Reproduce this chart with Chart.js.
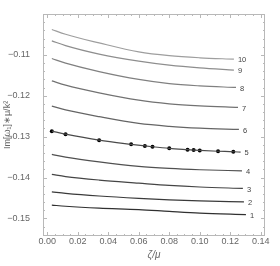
<!DOCTYPE html>
<html>
<head>
<meta charset="utf-8">
<script src="https://cdn.jsdelivr.net/npm/chart.js@4.4.1/dist/chart.umd.min.js"></script>
<style>
  html, body { margin: 0; padding: 0; background: #fff; }
  #wrap { width: 280px; height: 266px; }
</style>
</head>
<body>
<div id="wrap"><canvas id="c" width="280" height="266"></canvas></div>
<script>
// ===== DATOS =====
// zeta/mu de muestreo para las curvas 1-4 y 6-10 (el último punto va aparte)
const zeta = [0.003, 0.012, 0.034, 0.06, 0.08, 0.10];
// zeta final de cada curva (1..10)
const zetaEnd = [0.1303, 0.129, 0.1283, 0.1277, 0.1268, 0.1257, 0.1251, 0.1238, 0.1224, 0.1224];

// Im[w1]*mu/k^2 por curva (7 valores: zeta + zetaEnd)
const curve1  = [-0.14675, -0.14702, -0.14748, -0.14785, -0.14829, -0.14870, -0.14907];
const curve2  = [-0.14350, -0.14386, -0.14452, -0.14511, -0.14548, -0.14572, -0.14594];
const curve3  = [-0.13924, -0.13976, -0.14061, -0.14137, -0.14193, -0.14232, -0.14267];
const curve4  = [-0.13435, -0.13501, -0.13619, -0.13729, -0.13778, -0.13809, -0.13836];
const curve6  = [-0.12254, -0.12345, -0.12511, -0.12677, -0.12748, -0.12792, -0.12824];
const curve7  = [-0.11636, -0.11741, -0.11929, -0.12108, -0.12196, -0.12247, -0.12286];
const curve8  = [-0.11088, -0.11203, -0.11408, -0.11601, -0.11704, -0.11758, -0.11797];
const curve9  = [-0.10658, -0.10773, -0.10980, -0.11154, -0.11252, -0.11320, -0.11374];
const curve10 = [-0.10379, -0.10496, -0.10707, -0.10927, -0.11020, -0.11071, -0.11105];

// curva 5: puntos medidos (los marcadores negros)
const dotZeta = [0.003, 0.012, 0.034, 0.055, 0.064, 0.069, 0.080, 0.092, 0.096, 0.100, 0.112, 0.122];
const dotIm   = [-0.12866, -0.12939, -0.13086, -0.13188, -0.13227, -0.13247, -0.13286, -0.13318, -0.13328, -0.13337, -0.13357, -0.13369];
const curve5End = -0.13379;

// ticks
const xTicks = [0, 0.02, 0.04, 0.06, 0.08, 0.10, 0.12, 0.14];
const yTicks = [-0.15, -0.14, -0.13, -0.12, -0.11];

const lineColors = ['#303030', '#3a3a3a', '#454545', '#505050', '#4a4a4a', '#656565', '#727272', '#808080', '#8e8e8e', '#9e9e9e'];
const FONT = '"Liberation Sans", Arial, sans-serif';

// ===== DATASETS =====
const curves = [curve1, curve2, curve3, curve4, null, curve6, curve7, curve8, curve9, curve10];

const datasets = curves.map((c, i) => {
    let pts;
    if (i === 4) {
        pts = dotZeta.map((z, j) => ({ x: z, y: dotIm[j] }));
        pts.push({ x: zetaEnd[4], y: curve5End });
    } else {
        pts = zeta.concat([zetaEnd[i]]).map((z, j) => ({ x: z, y: c[j] }));
    }
    return {
        label: String(i + 1),
        data: pts,
        borderColor: lineColors[i],
        borderWidth: 1.2,
        pointRadius: 0,
        cubicInterpolationMode: 'monotone',
        fill: false
    };
});

datasets.push({
    label: 'puntos',
    data: dotZeta.map((z, j) => ({ x: z, y: dotIm[j] })),
    showLine: false,
    pointRadius: 2,
    pointBackgroundColor: '#000',
    pointBorderWidth: 0,
    borderColor: '#000'
});

// ===== PLUGINS =====
// marco tipo Mathematica con ticks hacia adentro
const framePlugin = {
    id: 'frame',
    beforeDatasetsDraw(chart) {
        const { ctx, chartArea: a, scales: { x, y } } = chart;
        ctx.save();
        ctx.strokeStyle = '#b8b8b8';
        ctx.lineWidth = 1;
        ctx.strokeRect(a.left + 0.5, a.top + 0.5, a.width - 1, a.height - 1);
        ctx.beginPath();
        for (let i = 0; i <= 28; i++) {
            const v = i * 0.005;
            if (v < x.min || v > x.max) continue;
            const px = Math.round(x.getPixelForValue(v)) + 0.5;
            const len = i % 4 === 0 ? 4 : 2;
            ctx.moveTo(px, a.bottom); ctx.lineTo(px, a.bottom - len);
            ctx.moveTo(px, a.top); ctx.lineTo(px, a.top + len);
        }
        for (let i = -78; i <= -50; i++) {
            const v = i * 0.002;
            if (v < y.min || v > y.max) continue;
            const py = Math.round(y.getPixelForValue(v)) + 0.5;
            const len = i % 5 === 0 ? 4 : 2;
            ctx.moveTo(a.left, py); ctx.lineTo(a.left + len, py);
            ctx.moveTo(a.right, py); ctx.lineTo(a.right - len, py);
        }
        ctx.stroke();
        ctx.restore();
    }
};

// número de cada curva al final de la línea
const endLabels = {
    id: 'endLabels',
    afterDatasetsDraw(chart) {
        const { ctx } = chart;
        ctx.save();
        ctx.font = '7.5px ' + FONT;
        ctx.fillStyle = '#444';
        ctx.textAlign = 'left';
        ctx.textBaseline = 'middle';
        for (let i = 0; i < 10; i++) {
            const meta = chart.getDatasetMeta(i);
            const last = meta.data[meta.data.length - 1];
            ctx.fillText(String(i + 1), last.x + 4, last.y + 1);
        }
        ctx.restore();
    }
};

// ===== CHART =====
new Chart(document.getElementById('c'), {
    type: 'line',
    data: { datasets },
    options: {
        responsive: false,
        animation: false,
        devicePixelRatio: 1,
        layout: { padding: { left: 0, top: 14, right: 15, bottom: 0 } },
        plugins: { legend: { display: false }, tooltip: { enabled: false } },
        scales: {
            x: {
                type: 'linear',
                min: -0.0028,
                max: 0.1428,
                afterBuildTicks: s => { s.ticks = xTicks.map(v => ({ value: v })); },
                afterFit: s => { s.height = 30; },
                grid: { display: false },
                border: { display: false },
                ticks: {
                    autoSkip: false,
                    maxRotation: 0,
                    padding: -8,
                    color: '#666',
                    font: { family: FONT, size: 9 },
                    callback: v => v.toFixed(2)
                },
                title: {
                    display: true,
                    text: 'ζ/μ',
                    color: '#666',
                    font: { family: FONT, size: 10, style: 'italic' },
                    padding: { top: 0, bottom: 5 }
                }
            },
            y: {
                type: 'linear',
                min: -0.1543,
                max: -0.1000,
                afterBuildTicks: s => { s.ticks = yTicks.map(v => ({ value: v })); },
                afterFit: s => { s.width = 43; },
                grid: { display: false },
                border: { display: false },
                ticks: {
                    autoSkip: false,
                    padding: 5,
                    color: '#666',
                    font: { family: FONT, size: 9 },
                    callback: v => '−' + Math.abs(v).toFixed(2)
                },
                title: {
                    display: true,
                    text: 'Im[ω₁]∗μ/k²',
                    color: '#666',
                    font: { family: FONT, size: 9 },
                    padding: { top: 2, bottom: 0 }
                }
            }
        }
    },
    plugins: [framePlugin, endLabels]
});
</script>
</body>
</html>
